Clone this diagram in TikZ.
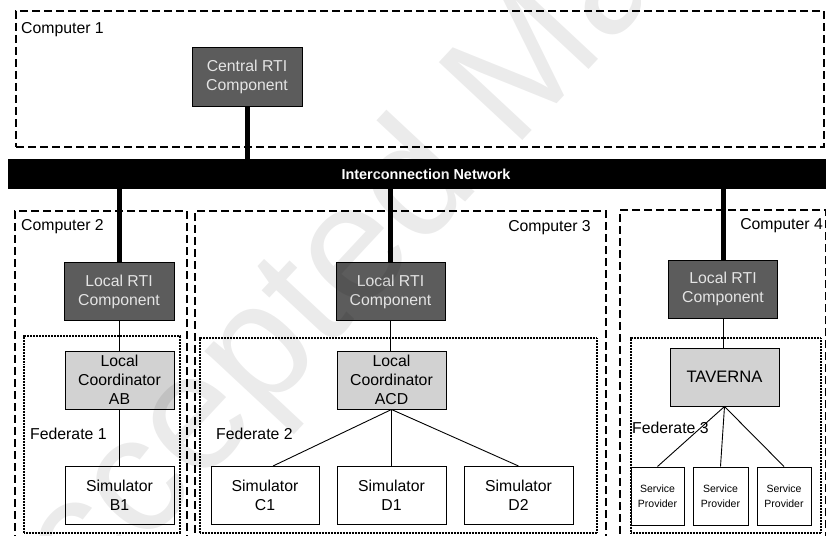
\documentclass[tikz,border=0pt]{standalone}
\usepackage{fontspec}
\setmainfont{Liberation Sans}
\definecolor{rtigray}{RGB}{92,92,92}
\definecolor{rtitext}{RGB}{228,228,228}
\definecolor{coordgray}{RGB}{210,210,210}
\tikzset{
  comp/.style={draw=black, line width=2pt, dash pattern=on 8pt off 4pt, inner sep=0pt, anchor=north west},
  fed/.style={draw=black, line width=2pt, dash pattern=on 0.8pt off 0.7pt, inner sep=0pt, anchor=north west},
  rtibox/.style={draw=black, line width=1pt, fill=rtigray, text=rtitext, minimum width=109pt,
    minimum height=58pt, align=center, inner sep=0pt, font=\fontsize{15.8}{19}\selectfont},
  coordbox/.style={rtibox, fill=coordgray, text=black},
  simbox/.style={rtibox, fill=white, text=black},
  spbox/.style={simbox, minimum width=54pt, font=\fontsize{10.5}{15}\selectfont},
  lbl/.style={inner sep=0pt, font=\fontsize{15.8}{19}\selectfont},
  link/.style={line width=0.9pt},
  trunk/.style={line width=5pt},
}
\begin{document}
\begin{tikzpicture}[x=1pt,y=-1pt]
\clip (0,0) rectangle (826,535);
\fill[white] (0,0) rectangle (826,535);

% machine boundaries
\node[comp, minimum width=808pt, minimum height=136pt] (pc1) at (15,10) {};
\node[comp, minimum width=172pt, minimum height=340pt] (pc2) at (14,210) {};
\node[comp, minimum width=411pt, minimum height=340pt] (pc3) at (194,210) {};
\node[comp, minimum width=206pt, minimum height=340pt] (pc4) at (619,209) {};
\node[lbl, anchor=base west] (pc1l) at (21,34) {Computer 1};
\node[lbl, anchor=base west] (pc2l) at (21,230) {Computer 2};
\node[lbl, anchor=base east] (pc3l) at (591,231) {Computer 3};
\node[lbl, anchor=base east] (pc4l) at (823,229) {Computer 4};

% federates
\node[fed, minimum width=156pt, minimum height=197pt] (fed1) at (23,335) {};
\node[fed, minimum width=397pt, minimum height=195pt] (fed2) at (199,337) {};
\node[fed, minimum width=190pt, minimum height=195pt] (fed3) at (630,337) {};
\node[lbl, anchor=base west] (fed1l) at (30,439) {Federate 1};
\node[lbl, anchor=base west] (fed2l) at (216,439) {Federate 2};
\node[lbl, anchor=base west] (fed3l) at (632,433) {Federate 3};

% network
\node[fill=black, minimum width=818pt, minimum height=30pt, inner sep=0pt] (net) at (417,174) {};
\node[text=white, inner sep=0pt, font=\bfseries\fontsize{14.4}{17}\selectfont] (netl) at (426,174) {Interconnection Network};

% RTI components
\node[rtibox, minimum width=110pt] (central) at (247,77) {Central RTI\\Component};
\node[rtibox, minimum width=110pt] (rti2) at (119,291.5) {Local RTI\\Component};
\node[rtibox] (rti3) at (390.5,291.5) {Local RTI\\Component};
\node[rtibox] (rti4) at (723,289) {Local RTI\\Component};

% coordinators
\node[coordbox] (cab) at (119.5,380) {Local\\Coordinator\\AB};
\node[coordbox] (cacd) at (391.5,380) {Local\\Coordinator\\ACD};
\node[coordbox, font=\fontsize{16.6}{19}\selectfont] (tav) at (724.5,377) {TAVERNA};

% simulators and services
\node[simbox] (sb1) at (119.5,495.5) {Simulator\\B1};
\node[simbox, minimum width=108pt] (sc1) at (265,495.5) {Simulator\\C1};
\node[simbox] (sd1) at (391.5,495.5) {Simulator\\D1};
\node[simbox] (sd2) at (518.5,495.5) {Simulator\\D2};
\node[spbox, minimum width=53pt] (sp1) at (657.5,496) {Service\\Provider};
\node[spbox, minimum width=55pt] (sp2) at (720.5,496) {Service\\Provider};
\node[spbox] (sp3) at (784,496) {Service\\Provider};

% network attachments
\draw[trunk] (central.south) -- (central.south |- net.north);
\draw[trunk] (rti2.north) -- (rti2.north |- net.south);
\draw[trunk] (rti3.north) -- (rti3.north |- net.south);
\draw[trunk] (rti4.north) -- (rti4.north |- net.south);

% local links
\draw[link] (rti2.south) -- (rti2.south |- cab.north);
\draw[link] (cab.south) -- (cab.south |- sb1.north);
\draw[link] (rti3.south) -- (rti3.south |- cacd.north);
\draw[link] (cacd.south) -- ([xshift=8pt]sc1.north);
\draw[link] (cacd.south) -- (sd1.north);
\draw[link] (cacd.south) -- (sd2.north);
\draw[link] (rti4.south) -- (rti4.south |- tav.north);
\draw[link] (tav.south) -- (sp1.north);
\draw[link] (tav.south) -- (sp2.north);
\draw[link] (tav.south) -- (sp3.north);

% watermark
\node[rotate=47, anchor=base west, inner sep=0pt, text=black, text opacity=0.08,
  font=\fontsize{166}{166}\selectfont] (wm) at (10,690) {Accepted Manuscript};
\end{tikzpicture}
\end{document}
